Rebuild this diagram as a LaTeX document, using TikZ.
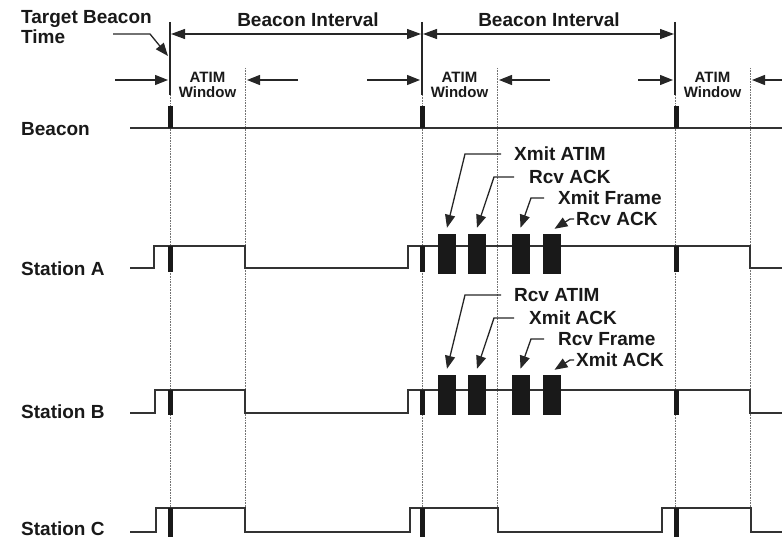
\documentclass[tikz,border=0pt]{standalone}
\usepackage{fontspec}
\setmainfont{Liberation Sans}
\usetikzlibrary{arrows.meta,positioning,calc}

\begin{document}
\begin{tikzpicture}[x=1pt, y=-1pt,
    txt/.style={font=\bfseries\fontsize{19}{20}\selectfont, inner sep=1pt, text=black!90},
    winTxt/.style={font=\bfseries\fontsize{15}{15}\selectfont, align=center, inner sep=0pt, text=black!90},
    sigLine/.style={line width=1.4pt, draw=black!80},
    guide/.style={densely dotted, line width=0.6pt, draw=black!55},
    tbtLine/.style={line width=1.3pt, draw=black!85},
    pulse/.style={fill=black!90, draw=none},
    frameBox/.style={fill=black!90, draw=none, minimum width=18pt, minimum height=40pt, inner sep=0pt},
    dimArrow/.style={line width=1.2pt, draw=black!85, {Triangle[length=14pt,width=10pt]}-{Triangle[length=14pt,width=10pt]}},
    winArrow/.style={line width=1.2pt, draw=black!85, -{Triangle[length=13pt,width=10pt]}},
    leader/.style={line width=1.3pt, draw=black!85, -{Triangle[length=13pt,width=10pt]}}
]
\useasboundingbox (0,0) rectangle (782,543);

\node[txt, align=left, anchor=north west] (tbt) at (20,9) {Target Beacon\\Time};
\node[txt] (biOne) at (308,20) {Beacon Interval};
\node[txt] (biTwo) at (549,20) {Beacon Interval};

\foreach \t/\w [count=\i] in {170/245, 422/497, 675/750} {
    \coordinate (tb\i) at (\t,34);
    \draw[guide] (\t,95) -- (\t,512);
    \draw[guide] (\w,68) -- (\w,512);
    \draw[tbtLine] (\t,22) -- (\t,95);
    \node[winTxt] (atim\i) at ($(\t,85)!0.5!(\w,85)$) {ATIM\\Window};
}

\coordinate (tbtStart) at (113,34);
\coordinate (tbtTip) at (168,56);
\draw[leader] (tbtStart) -- (150,34) -- (tbtTip);

\draw[dimArrow] ([xshift=1pt]tb1) -- ([xshift=-1pt]tb2);
\draw[dimArrow] ([xshift=1pt]tb2) -- ([xshift=-1pt]tb3);

\draw[winArrow] (115,80) -- (168,80);
\draw[winArrow] (298,80) -- (247,80);
\draw[winArrow] (367,80) -- (420,80);
\draw[winArrow] (550,80) -- (499,80);
\draw[winArrow] (638,80) -- (673,80);
\draw[winArrow] (782,80) -- (752,80);

\node[txt, anchor=west] (beacon) at (20,129) {Beacon};
\node[txt, anchor=west] (staA) at (20,269) {Station A};
\node[txt, anchor=west] (staB) at (20,412) {Station B};
\node[txt, anchor=west] (staC) at (20,529) {Station C};

\draw[sigLine] (130,128) -- (782,128);
\draw[sigLine] (130,268) -- (154,268) -- (154,246) -- (245,246) -- (245,268) -- (408,268) -- (408,246) -- (750,246) -- (750,268) -- (782,268);
\draw[sigLine] (130,413) -- (155,413) -- (155,390) -- (245,390) -- (245,413) -- (408,413) -- (408,390) -- (750,390) -- (750,413) -- (782,413);
\draw[sigLine] (130,532) -- (156,532) -- (156,508) -- (245,508) -- (245,532) -- (410,532) -- (410,508) -- (498,508) -- (498,532) -- (662,532) -- (662,508) -- (751,508) -- (751,532) -- (782,532);

\foreach \t in {170, 422, 676} {
    \fill[pulse] (\t-2.5,106) rectangle (\t+2.5,128);
    \fill[pulse] (\t-2.5,246) rectangle (\t+2.5,272);
    \fill[pulse] (\t-2.5,390) rectangle (\t+2.5,415);
    \fill[pulse] (\t-2.5,508) rectangle (\t+2.5,537);
}

\foreach \s/\dy/\la/\lb/\lc/\ld in {A/0/Xmit ATIM/Rcv ACK/Xmit Frame/Rcv ACK, B/141/Rcv ATIM/Xmit ACK/Rcv Frame/Xmit ACK} {
    \node[frameBox] (f\s1) at (447,254+\dy) {};
    \node[frameBox] (f\s2) at (477,254+\dy) {};
    \node[frameBox] (f\s3) at (520.5,254+\dy) {};
    \node[frameBox] (f\s4) at (551.5,254+\dy) {};
    \node[txt, anchor=west] (l\s1) at (513,154+\dy) {\la};
    \node[txt, anchor=west] (l\s2) at (528,177+\dy) {\lb};
    \node[txt, anchor=west] (l\s3) at (557,198+\dy) {\lc};
    \node[txt, anchor=west] (l\s4) at (575,219+\dy) {\ld};
    \draw[leader] ([xshift=-12pt]l\s1.west) -- ++(-36,0) -- ([yshift=6pt]f\s1.north);
    \draw[leader] ([xshift=-14pt]l\s2.west) -- ++(-20,0) -- ([yshift=6pt]f\s2.north);
    \draw[leader] ([xshift=-13pt]l\s3.west) -- ++(-13,0) -- ([yshift=6pt]f\s3.north);
    \draw[leader] ([xshift=-1pt]l\s4.west) -- ++(-4,0) -- ([xshift=3pt,yshift=5pt]f\s4.north);
}

\end{tikzpicture}
\end{document}
